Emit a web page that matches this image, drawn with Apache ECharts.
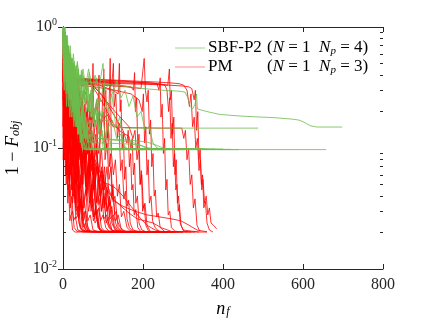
<!DOCTYPE html>
<html><head><meta charset="utf-8">
<script src="https://cdn.jsdelivr.net/npm/echarts@6/dist/echarts.min.js"></script>
<style>html,body{margin:0;padding:0;background:#fff}#c{width:436px;height:323px}</style>
</head><body><div id="c"></div>
<script>
// ---- axis ticks ----
const xTicks = [0, 200, 400, 600, 800];
const yTicks = [0.01, 0.1, 1];
const yMinorTicks = [0.02,0.03,0.04,0.05,0.06,0.07,0.08,0.09,0.2,0.3,0.4,0.5,0.6,0.7,0.8,0.9];
const legendNames = ['SBF-P2', 'PM'];
const legendParams = ['(N = 1  N_p = 4)', '(N = 1  N_p = 3)'];

// ---- SBF-P2 runs (x = n_f, y = 1 - F_obj) ----
const sbf01 = [[0,1.0],[2,0.6],[4,0.9],[6,0.5],[8,0.75],[11,0.45],[14,0.6],[18,0.4],[22,0.5],[27,0.38],[32,0.42],[40,0.36],[55,0.35],[100,0.34],[150,0.325],[200,0.31],[250,0.3],[290,0.295],[305,0.29],[312,0.26],[318,0.22],[324,0.21],[330,0.23],[334,0.28],[336,0.21],[340,0.205],[360,0.2],[390,0.19],[430,0.185],[480,0.181],[530,0.178],[575,0.173],[590,0.17],[600,0.165],[610,0.158],[620,0.152],[635,0.149],[698,0.149]];
const sbf02 = [[0,0.9],[2,0.5],[4,0.8],[6,0.4],[9,0.65],[12,0.35],[16,0.5],[20,0.3],[25,0.42],[30,0.26],[36,0.35],[42,0.22],[50,0.3],[58,0.2],[66,0.25],[75,0.18],[85,0.21],[95,0.165],[110,0.17],[125,0.155],[140,0.148],[160,0.146],[488,0.146]];
const sbf03 = [[0,0.8],[3,0.45],[6,0.7],[10,0.35],[14,0.55],[18,0.25],[23,0.4],[28,0.18],[33,0.28],[38,0.13],[43,0.18],[48,0.105],[53,0.11],[58,0.098],[70,0.097],[658,0.097]];
const sbf04 = [[0,0.95],[3,0.55],[6,0.85],[9,0.4],[12,0.7],[16,0.3],[20,0.5],[24,0.22],[28,0.35],[33,0.15],[38,0.22],[43,0.11],[48,0.13],[53,0.099],[62,0.0975],[420,0.0975]];
const sbf05 = [[0,0.7],[3,0.4],[6,0.65],[10,0.3],[14,0.5],[18,0.25],[23,0.42],[28,0.2],[33,0.33],[38,0.16],[44,0.25],[50,0.13],[56,0.18],[62,0.11],[68,0.13],[74,0.1],[82,0.098],[380,0.098]];
const sbf06 = [[0,1.0],[3,0.6],[5,0.9],[8,0.45],[11,0.7],[14,0.4],[18,0.6],[22,0.35],[27,0.5],[32,0.3],[38,0.45],[44,0.28],[50,0.4],[56,0.25],[62,0.35],[68,0.2],[74,0.28],[80,0.15],[86,0.2],[92,0.12],[98,0.14],[104,0.1],[115,0.098],[340,0.098]];
const sbf07 = [[0,0.85],[2,0.5],[4,0.75],[7,0.38],[10,0.6],[13,0.3],[17,0.45],[21,0.25],[26,0.35],[31,0.2],[37,0.28],[43,0.16],[50,0.22],[58,0.14],[66,0.17],[75,0.125],[90,0.12],[120,0.118],[150,0.117],[180,0.115],[210,0.112],[235,0.105],[250,0.1],[270,0.098],[400,0.098]];
const sbf08 = [[0,0.6],[3,0.35],[5,0.55],[8,0.28],[11,0.45],[14,0.22],[18,0.35],[22,0.18],[27,0.28],[32,0.15],[38,0.22],[44,0.13],[52,0.16],[60,0.115],[75,0.11],[100,0.11],[130,0.109],[160,0.108],[190,0.106],[215,0.1],[230,0.098],[360,0.098]];
const sbf09 = [[0,1.0],[2,0.65],[4,0.95],[7,0.5],[10,0.8],[13,0.4],[16,0.6],[20,0.3],[24,0.42],[28,0.2],[32,0.27],[37,0.13],[42,0.16],[47,0.1],[55,0.097],[300,0.097]];
const sbf10 = [[0,0.9],[3,0.5],[6,0.8],[9,0.4],[12,0.65],[16,0.35],[20,0.55],[25,0.3],[30,0.48],[36,0.28],[42,0.4],[48,0.25],[55,0.36],[62,0.22],[70,0.3],[78,0.2],[86,0.26],[95,0.18],[104,0.22],[114,0.15],[124,0.17],[134,0.12],[144,0.13],[154,0.1],[165,0.098],[320,0.098]];
const sbf11 = [[0,0.75],[3,0.45],[6,0.7],[9,0.32],[12,0.55],[16,0.26],[20,0.4],[24,0.2],[29,0.3],[34,0.15],[39,0.2],[44,0.115],[49,0.13],[55,0.1],[62,0.097],[260,0.097]];
const sbf12 = [[0,0.95],[2,0.7],[4,1.0],[6,0.55],[8,0.85],[10,0.45],[13,0.7],[16,0.38],[19,0.6],[23,0.32],[27,0.5],[31,0.26],[35,0.4],[40,0.2],[45,0.3],[50,0.15],[55,0.2],[60,0.12],[66,0.13],[72,0.1],[80,0.098],[240,0.098]];
const sbf13 = [[0,0.5],[3,0.3],[6,0.45],[9,0.22],[13,0.38],[17,0.18],[22,0.3],[27,0.15],[33,0.24],[40,0.13],[48,0.19],[56,0.12],[65,0.15],[75,0.115],[90,0.12],[110,0.118],[140,0.115],[170,0.112],[195,0.105],[210,0.099],[225,0.097],[280,0.097]];
const sbf14 = [[0,0.8],[3,0.55],[6,0.75],[10,0.45],[14,0.65],[19,0.4],[24,0.55],[30,0.36],[36,0.5],[43,0.33],[50,0.45],[58,0.3],[66,0.42],[75,0.27],[84,0.38],[93,0.24],[102,0.34],[112,0.2],[122,0.28],[132,0.15],[142,0.18],[150,0.11],[158,0.1],[170,0.097],[440,0.097]];
const sbf15 = [[0,0.9],[3,0.55],[6,0.8],[9,0.45],[13,0.65],[17,0.4],[22,0.55],[27,0.35],[33,0.48],[40,0.33],[48,0.42],[56,0.32],[64,0.45],[72,0.3],[80,0.4],[90,0.31],[100,0.5],[104,0.3],[115,0.34],[125,0.28],[135,0.36],[145,0.26],[155,0.3],[165,0.22],[175,0.27],[185,0.18],[195,0.2],[205,0.14],[215,0.15],[225,0.11],[235,0.1],[250,0.098],[330,0.098]];
const sbf16 = [[0,1.0],[2,0.7],[4,0.95],[6,0.6],[8,0.85],[11,0.5],[14,0.7],[17,0.38],[20,0.55],[23,0.28],[26,0.4],[30,0.2],[34,0.28],[38,0.14],[42,0.18],[46,0.105],[51,0.1],[58,0.097],[200,0.097]];
const sbf17 = [[0,0.65],[3,0.9],[6,0.5],[9,0.75],[12,0.38],[15,0.6],[19,0.3],[23,0.48],[27,0.24],[31,0.38],[35,0.18],[40,0.3],[45,0.14],[50,0.22],[55,0.12],[60,0.15],[66,0.1],[74,0.098],[220,0.098]];
const sbf18 = [[0,0.55],[2,0.8],[4,0.45],[6,0.7],[8,0.35],[11,0.55],[14,0.28],[17,0.45],[20,0.22],[24,0.36],[28,0.17],[32,0.28],[37,0.13],[42,0.2],[47,0.11],[53,0.14],[60,0.1],[68,0.098],[290,0.098]];
const sbf19 = [[0,0.85],[2,1.0],[4,0.6],[6,0.9],[8,0.5],[10,0.75],[13,0.42],[16,0.62],[19,0.34],[22,0.5],[26,0.27],[30,0.4],[34,0.2],[38,0.3],[43,0.15],[48,0.22],[53,0.12],[58,0.15],[64,0.1],[72,0.098],[350,0.098]];
const sbf20 = [[0,0.75],[3,0.45],[6,0.65],[9,0.35],[13,0.55],[17,0.3],[22,0.5],[27,0.27],[32,0.45],[38,0.25],[44,0.4],[50,0.22],[57,0.35],[64,0.2],[71,0.3],[78,0.17],[85,0.25],[92,0.14],[99,0.2],[106,0.12],[113,0.15],[120,0.1],[130,0.098],[310,0.098]];
const sbf21 = [[0,0.6],[3,0.85],[6,0.5],[10,0.7],[14,0.42],[18,0.6],[23,0.36],[28,0.52],[33,0.3],[38,0.45],[44,0.26],[50,0.38],[56,0.22],[62,0.32],[68,0.18],[74,0.26],[80,0.15],[86,0.2],[92,0.12],[98,0.13],[105,0.1],[115,0.098],[270,0.098]];
const sbf22 = [[0,0.95],[2,0.75],[5,1.0],[8,0.6],[11,0.85],[14,0.5],[18,0.7],[22,0.42],[26,0.6],[31,0.36],[36,0.52],[41,0.3],[46,0.44],[52,0.25],[58,0.36],[64,0.2],[70,0.28],[76,0.16],[82,0.22],[88,0.13],[94,0.16],[100,0.1],[110,0.098],[230,0.098]];

// ---- PM runs ----
const pm01 = [[0,0.55],[3,0.3],[6,0.45],[10,0.2],[14,0.38],[20,0.3],[28,0.37],[40,0.375],[80,0.37],[120,0.365],[160,0.36],[200,0.355],[240,0.35],[270,0.345],[290,0.34],[302,0.33],[310,0.3],[316,0.22],[320,0.28],[324,0.15],[328,0.18],[332,0.1],[336,0.12],[340,0.065],[343,0.08],[347,0.045],[350,0.055],[354,0.035],[358,0.04],[362,0.028],[366,0.032],[370,0.024],[376,0.023],[384,0.0215]];
const pm02 = [[0,0.4],[4,0.7],[8,0.35],[13,0.5],[18,0.3],[25,0.36],[35,0.35],[80,0.345],[150,0.34],[220,0.335],[270,0.33],[300,0.325],[315,0.32],[322,0.31],[328,0.25],[331,0.3],[334,0.14],[337,0.2],[340,0.08],[343,0.1],[346,0.05],[349,0.06],[352,0.032],[356,0.036],[360,0.024],[366,0.021],[375,0.0202]];
const pm03 = [[0,0.3],[5,0.5],[9,0.25],[14,0.42],[20,0.22],[27,0.35],[34,0.2],[42,0.3],[50,0.18],[60,0.25],[70,0.17],[82,0.22],[95,0.16],[110,0.19],[125,0.15],[140,0.148],[180,0.147],[240,0.146],[297,0.146],[302,0.12],[306,0.14],[310,0.08],[314,0.1],[318,0.05],[322,0.06],[326,0.032],[330,0.038],[335,0.023],[342,0.0205]];
const pm04 = [[0,0.8],[3,0.4],[7,0.6],[11,0.3],[16,0.45],[22,0.33],[30,0.36],[45,0.355],[100,0.35],[160,0.345],[210,0.34],[245,0.335],[255,0.33],[260,0.3],[264,0.2],[267,0.26],[270,0.12],[273,0.16],[276,0.07],[279,0.09],[282,0.045],[285,0.05],[288,0.03],[291,0.034],[295,0.023],[302,0.0205],[320,0.0202]];
const pm05 = [[0,0.35],[4,0.6],[8,0.3],[12,0.5],[17,0.28],[23,0.4],[30,0.32],[40,0.37],[70,0.365],[130,0.36],[190,0.35],[240,0.34],[262,0.33],[266,0.45],[268,0.25],[271,0.3],[274,0.13],[277,0.18],[280,0.06],[283,0.08],[286,0.035],[289,0.04],[293,0.024],[300,0.021],[340,0.0202]];
const pm06 = [[0,0.45],[3,0.25],[7,0.5],[11,0.27],[16,0.4],[22,0.3],[30,0.34],[45,0.335],[100,0.33],[160,0.32],[195,0.31],[203,0.55],[206,0.3],[210,0.24],[213,0.3],[216,0.13],[219,0.17],[222,0.07],[225,0.09],[228,0.04],[231,0.045],[234,0.027],[238,0.029],[243,0.022],[255,0.0203]];
const pm07 = [[0,0.25],[4,0.45],[9,0.22],[14,0.38],[20,0.26],[28,0.34],[40,0.33],[80,0.32],[130,0.3],[170,0.28],[190,0.25],[198,0.2],[201,0.28],[204,0.11],[207,0.15],[210,0.06],[213,0.08],[216,0.035],[220,0.04],[224,0.025],[230,0.022],[240,0.0205]];
const pm08 = [[0,0.6],[3,0.3],[7,0.5],[12,0.28],[17,0.42],[23,0.3],[30,0.37],[45,0.365],[80,0.36],[110,0.35],[122,0.33],[126,0.5],[128,0.22],[132,0.28],[136,0.12],[140,0.16],[144,0.065],[148,0.08],[152,0.038],[156,0.044],[160,0.026],[166,0.022],[175,0.0205]];
const pm09 = [[0,0.3],[5,0.55],[10,0.27],[15,0.4],[21,0.26],[28,0.35],[38,0.3],[55,0.34],[90,0.33],[125,0.3],[138,0.28],[141,0.5],[143,0.2],[145,0.25],[148,0.1],[151,0.13],[154,0.055],[157,0.07],[160,0.033],[164,0.037],[168,0.024],[175,0.021],[190,0.0203]];
const pm10 = [[0,0.5],[4,0.25],[8,0.4],[13,0.2],[19,0.3],[25,0.15],[32,0.22],[40,0.11],[48,0.14],[56,0.08],[64,0.1],[72,0.065],[80,0.075],[90,0.055],[100,0.052],[115,0.05],[130,0.047],[150,0.04],[170,0.033],[190,0.027],[210,0.023],[230,0.021],[250,0.0203]];
const pm11 = [[0,0.35],[4,0.6],[9,0.3],[14,0.45],[20,0.2],[27,0.3],[34,0.15],[42,0.2],[50,0.1],[60,0.12],[70,0.07],[80,0.08],[95,0.06],[110,0.045],[125,0.038],[145,0.033],[165,0.029],[185,0.026],[205,0.025],[225,0.024],[245,0.022],[270,0.0205]];
const pm12 = [[0,0.28],[5,0.5],[10,0.23],[16,0.35],[22,0.18],[30,0.25],[38,0.12],[46,0.16],[55,0.08],[64,0.1],[74,0.06],[84,0.07],[96,0.045],[110,0.05],[125,0.037],[150,0.033],[180,0.03],[210,0.028],[240,0.027],[270,0.026],[295,0.025],[315,0.023],[335,0.021],[360,0.0203]];
const pm13 = [[0,0.2],[2,0.45],[4,0.15],[6,0.3],[8,0.1],[10,0.18],[12,0.06],[14,0.09],[16,0.04],[18,0.05],[21,0.028],[24,0.03],[28,0.022],[35,0.0205],[150,0.0202]];
const pm14 = [[0,0.7],[3,0.3],[5,0.5],[8,0.2],[11,0.35],[14,0.12],[17,0.2],[20,0.07],[23,0.1],[26,0.045],[29,0.055],[32,0.03],[36,0.033],[40,0.024],[46,0.021],[60,0.0203],[200,0.0202]];
const pm15 = [[0,0.4],[3,0.15],[6,0.3],[9,0.12],[12,0.25],[16,0.09],[20,0.18],[24,0.07],[28,0.12],[32,0.05],[36,0.08],[40,0.035],[44,0.05],[48,0.026],[53,0.03],[58,0.022],[66,0.0205],[180,0.0202]];
const pm16 = [[0,0.15],[3,0.35],[6,0.12],[10,0.25],[14,0.1],[18,0.2],[22,0.08],[27,0.15],[32,0.06],[37,0.1],[42,0.045],[47,0.07],[52,0.032],[57,0.045],[62,0.025],[68,0.028],[75,0.021],[90,0.0203],[250,0.0202]];
const pm17 = [[0,0.9],[3,0.4],[6,0.6],[9,0.25],[13,0.4],[17,0.2],[21,0.3],[26,0.14],[31,0.22],[36,0.1],[41,0.16],[46,0.07],[51,0.1],[56,0.05],[61,0.065],[66,0.035],[71,0.045],[76,0.027],[82,0.03],[88,0.022],[96,0.0205],[220,0.0202]];
const pm18 = [[0,0.3],[4,0.12],[8,0.25],[12,0.08],[16,0.15],[20,0.06],[25,0.11],[30,0.05],[35,0.08],[40,0.04],[46,0.065],[52,0.035],[58,0.05],[64,0.03],[70,0.04],[76,0.025],[83,0.03],[90,0.022],[100,0.0205],[300,0.0202]];
const pm19 = [[0,0.5],[4,0.2],[8,0.35],[13,0.15],[18,0.3],[24,0.12],[30,0.22],[36,0.09],[42,0.16],[48,0.08],[55,0.14],[62,0.06],[70,0.12],[78,0.05],[84,0.09],[90,0.4],[93,0.06],[98,0.045],[104,0.07],[110,0.03],[116,0.04],[122,0.024],[130,0.021],[150,0.0203],[270,0.0202]];
const pm20 = [[0,0.25],[3,0.5],[6,0.2],[10,0.4],[14,0.18],[19,0.32],[24,0.15],[30,0.27],[36,0.13],[42,0.22],[48,0.11],[55,0.18],[62,0.09],[69,0.14],[76,0.07],[83,0.11],[90,0.05],[97,0.07],[104,0.035],[111,0.045],[118,0.026],[126,0.028],[135,0.022],[145,0.0205],[330,0.0202]];
const pm21 = [[0,0.35],[4,0.7],[8,0.3],[13,0.5],[18,0.25],[24,0.4],[30,0.22],[37,0.35],[44,0.2],[52,0.3],[60,0.18],[68,0.28],[76,0.15],[84,0.25],[92,0.13],[100,0.2],[108,0.1],[114,0.15],[118,0.55],[121,0.09],[126,0.06],[131,0.08],[136,0.04],[141,0.05],[146,0.027],[152,0.03],[160,0.022],[170,0.0205],[280,0.0202]];
const pm22 = [[0,0.12],[2,0.3],[5,0.1],[8,0.2],[11,0.07],[14,0.12],[17,0.05],[20,0.08],[24,0.035],[28,0.045],[32,0.026],[37,0.028],[43,0.022],[50,0.0205],[130,0.0202]];
const pm23 = [[0,0.18],[3,0.4],[6,0.15],[10,0.3],[14,0.12],[19,0.22],[24,0.1],[30,0.16],[36,0.08],[42,0.13],[48,0.07],[55,0.11],[62,0.06],[70,0.09],[78,0.05],[86,0.075],[94,0.04],[102,0.06],[110,0.03],[118,0.036],[126,0.023],[134,0.0205],[210,0.0202]];
const pm24 = [[0,0.6],[3,0.28],[7,0.45],[11,0.22],[16,0.35],[21,0.2],[27,0.3],[33,0.17],[40,0.26],[47,0.15],[54,0.23],[61,0.13],[68,0.2],[75,0.11],[82,0.17],[89,0.09],[96,0.14],[102,0.45],[105,0.08],[110,0.11],[115,0.055],[120,0.07],[125,0.036],[130,0.04],[136,0.025],[143,0.022],[155,0.0205],[360,0.0202]];
const pm25 = [[0,0.45],[3,0.2],[6,0.38],[9,0.16],[13,0.3],[17,0.12],[21,0.22],[25,0.08],[29,0.13],[33,0.05],[37,0.07],[41,0.032],[45,0.038],[50,0.024],[56,0.021],[70,0.0203],[160,0.0202]];
const pm26 = [[0,0.08],[3,0.2],[6,0.06],[9,0.12],[12,0.045],[15,0.07],[18,0.032],[22,0.04],[26,0.025],[31,0.027],[37,0.021],[50,0.0202],[110,0.0202]];
const pm27 = [[0,0.3],[4,0.55],[8,0.26],[13,0.42],[18,0.22],[24,0.36],[30,0.19],[36,0.3],[42,0.16],[48,0.25],[54,0.13],[60,0.2],[66,0.1],[72,0.15],[75,0.5],[78,0.08],[84,0.1],[90,0.05],[96,0.065],[102,0.032],[108,0.036],[114,0.024],[122,0.021],[135,0.0203],[240,0.0202]];
const pm28 = [[0,0.4],[3,0.7],[6,0.35],[10,0.55],[14,0.3],[19,0.45],[25,0.33],[32,0.38],[45,0.375],[70,0.37],[90,0.36],[100,0.34],[104,0.22],[107,0.3],[110,0.12],[113,0.16],[116,0.07],[119,0.09],[122,0.04],[125,0.05],[129,0.028],[133,0.03],[138,0.022],[146,0.0205],[290,0.0202]];
const pm29 = [[0,0.3],[4,0.5],[8,0.25],[13,0.42],[18,0.28],[25,0.35],[40,0.345],[90,0.34],[140,0.33],[170,0.32],[176,0.3],[179,0.42],[181,0.2],[184,0.26],[187,0.1],[190,0.13],[193,0.05],[196,0.065],[199,0.03],[203,0.034],[207,0.023],[214,0.0205],[230,0.0202]];
const pm30 = [[0,0.5],[3,0.25],[7,0.42],[11,0.2],[16,0.35],[22,0.27],[30,0.36],[50,0.36],[110,0.355],[170,0.35],[220,0.345],[235,0.34],[240,0.3],[243,0.38],[245,0.18],[248,0.23],[251,0.09],[254,0.12],[257,0.045],[260,0.055],[263,0.028],[267,0.03],[271,0.022],[280,0.0205],[310,0.0202]];
const pm31 = [[0,0.22],[4,0.45],[8,0.2],[13,0.35],[18,0.18],[24,0.3],[30,0.2],[38,0.3],[46,0.25],[54,0.3],[60,0.26],[64,0.15],[67,0.2],[70,0.08],[73,0.1],[76,0.045],[79,0.055],[82,0.028],[86,0.031],[91,0.022],[98,0.0205],[190,0.0202]];
const pm32 = [[0,0.1],[2,0.25],[4,0.08],[6,0.15],[8,0.05],[10,0.09],[12,0.035],[14,0.05],[17,0.025],[20,0.028],[24,0.021],[30,0.0202],[90,0.0202]];
const pm33 = [[0,0.6],[2,0.25],[5,0.4],[8,0.15],[11,0.28],[14,0.09],[17,0.16],[20,0.06],[23,0.1],[27,0.04],[31,0.06],[35,0.028],[39,0.034],[44,0.022],[52,0.0205],[120,0.0202]];
const pm34 = [[0,0.2],[3,0.1],[6,0.18],[9,0.07],[12,0.13],[15,0.055],[19,0.1],[23,0.045],[27,0.08],[31,0.038],[36,0.06],[41,0.03],[46,0.045],[51,0.025],[57,0.03],[63,0.021],[72,0.0203],[140,0.0202]];
const pm35 = [[0,0.35],[3,0.15],[6,0.3],[10,0.11],[14,0.22],[18,0.09],[22,0.17],[27,0.07],[32,0.13],[37,0.06],[42,0.11],[47,0.05],[53,0.09],[59,0.04],[65,0.07],[71,0.032],[77,0.05],[83,0.026],[89,0.032],[96,0.022],[104,0.0205],[170,0.0202]];
const pm36 = [[0,0.9],[2,0.5],[4,0.7],[7,0.3],[10,0.45],[13,0.2],[16,0.3],[19,0.13],[22,0.2],[26,0.08],[30,0.12],[34,0.05],[38,0.07],[42,0.032],[46,0.04],[51,0.024],[57,0.021],[66,0.0203],[100,0.0202]];
const pm37 = [[0,0.15],[4,0.3],[8,0.13],[12,0.24],[16,0.1],[21,0.2],[26,0.09],[31,0.16],[36,0.075],[42,0.14],[48,0.065],[54,0.12],[60,0.055],[66,0.1],[72,0.045],[78,0.08],[84,0.036],[90,0.06],[96,0.03],[102,0.042],[108,0.024],[115,0.027],[122,0.021],[132,0.0203],[190,0.0202]];
const pm38 = [[0,0.45],[3,0.2],[7,0.35],[11,0.15],[15,0.3],[20,0.12],[25,0.25],[30,0.1],[36,0.2],[42,0.085],[48,0.16],[54,0.07],[60,0.13],[66,0.06],[72,0.1],[78,0.045],[84,0.07],[90,0.034],[96,0.045],[102,0.026],[109,0.028],[116,0.022],[125,0.0205],[260,0.0202]];
const pm39 = [[0,0.28],[2,0.12],[5,0.22],[8,0.08],[11,0.15],[14,0.06],[18,0.11],[22,0.045],[26,0.08],[30,0.035],[34,0.055],[38,0.027],[43,0.035],[48,0.022],[55,0.0205],[150,0.0202]];
const pm40 = [[0,0.5],[4,0.22],[8,0.4],[12,0.18],[17,0.33],[22,0.15],[28,0.28],[34,0.13],[40,0.24],[47,0.11],[54,0.2],[61,0.09],[68,0.16],[75,0.075],[82,0.13],[89,0.06],[96,0.1],[103,0.045],[110,0.07],[117,0.033],[124,0.045],[131,0.025],[138,0.028],[146,0.021],[158,0.0203],[230,0.0202]];
const pm41 = [[0,0.7],[3,0.35],[6,0.55],[9,0.25],[13,0.4],[17,0.17],[21,0.28],[25,0.11],[29,0.18],[33,0.07],[37,0.11],[41,0.045],[45,0.06],[49,0.03],[54,0.035],[60,0.023],[68,0.0205],[210,0.0202]];
const pm42 = [[0,0.5],[4,0.25],[8,0.4],[13,0.28],[20,0.38],[30,0.37],[50,0.36],[70,0.34],[90,0.29],[110,0.24],[130,0.2],[150,0.17],[165,0.15],[175,0.12],[180,0.14],[185,0.08],[189,0.1],[193,0.05],[197,0.06],[201,0.032],[205,0.035],[210,0.023],[218,0.0205],[250,0.0202]];
const pm43 = [[0,0.35],[4,0.6],[8,0.3],[13,0.45],[19,0.33],[28,0.37],[45,0.365],[65,0.35],[80,0.3],[95,0.25],[110,0.2],[125,0.16],[140,0.14],[155,0.13],[165,0.125],[170,0.1],[173,0.12],[176,0.06],[179,0.075],[182,0.035],[186,0.04],[190,0.024],[197,0.021],[210,0.0202]];
const pm44 = [[0,0.4],[3,0.2],[7,0.35],[12,0.3],[20,0.37],[35,0.37],[55,0.36],[75,0.33],[95,0.28],[115,0.22],[135,0.17],[150,0.14],[160,0.11],[163,0.14],[166,0.07],[169,0.09],[172,0.045],[175,0.05],[178,0.028],[182,0.031],[187,0.022],[195,0.0203],[280,0.0202]];
const pm45 = [[0,0.25],[4,0.1],[8,0.2],[12,0.08],[16,0.16],[20,0.07],[25,0.14],[30,0.06],[35,0.12],[40,0.055],[45,0.1],[50,0.05],[55,0.09],[60,0.045],[66,0.08],[72,0.04],[78,0.07],[84,0.035],[90,0.055],[96,0.03],[102,0.04],[108,0.025],[115,0.022],[125,0.0205],[200,0.0202]];
const pm46 = [[0,0.3],[4,0.14],[8,0.25],[12,0.11],[17,0.2],[22,0.09],[28,0.16],[34,0.075],[40,0.13],[46,0.06],[52,0.1],[58,0.048],[64,0.075],[70,0.038],[76,0.055],[82,0.03],[88,0.04],[94,0.025],[100,0.028],[107,0.022],[115,0.0205],[240,0.0202]];
const pm47 = [[0,0.55],[3,0.25],[7,0.45],[11,0.2],[15,0.35],[20,0.15],[25,0.26],[30,0.11],[35,0.19],[40,0.08],[45,0.13],[50,0.06],[55,0.09],[60,0.042],[65,0.06],[70,0.03],[75,0.038],[80,0.024],[86,0.026],[92,0.021],[100,0.0203],[175,0.0202]];
const pm48 = [[0,0.18],[3,0.08],[6,0.15],[9,0.06],[12,0.11],[16,0.05],[20,0.09],[24,0.04],[28,0.07],[32,0.032],[36,0.05],[40,0.026],[45,0.035],[50,0.022],[56,0.024],[62,0.0205],[120,0.0202]];
const pm49 = [[0,0.4],[4,0.18],[8,0.32],[12,0.14],[17,0.26],[22,0.12],[27,0.22],[32,0.1],[38,0.18],[44,0.085],[50,0.15],[56,0.07],[62,0.12],[68,0.058],[74,0.1],[80,0.048],[86,0.08],[92,0.04],[98,0.065],[104,0.033],[110,0.048],[116,0.027],[122,0.033],[128,0.023],[136,0.021],[146,0.0203],[300,0.0202]];
const pm50 = [[0,0.65],[3,0.3],[6,0.5],[10,0.22],[14,0.38],[18,0.16],[22,0.28],[27,0.12],[32,0.2],[37,0.09],[42,0.15],[47,0.065],[52,0.1],[57,0.048],[62,0.07],[67,0.035],[72,0.05],[77,0.027],[82,0.033],[88,0.022],[95,0.0205],[260,0.0202]];

const sbfRuns = [sbf01,sbf02,sbf03,sbf04,sbf05,sbf06,sbf07,sbf08,sbf09,sbf10,sbf11,sbf12,sbf13,sbf14,sbf15,sbf16,sbf17,sbf18,sbf19,sbf20,sbf21,sbf22];
const pmRuns = [pm01,pm02,pm03,pm04,pm05,pm06,pm07,pm08,pm09,pm10,pm11,pm12,pm13,pm14,pm15,pm16,pm17,pm18,pm19,pm20,pm21,pm22,pm23,pm24,pm25,pm26,pm27,pm28,pm29,pm30,pm31,pm32,pm33,pm34,pm35,pm36,pm37,pm38,pm39,pm40,pm41,pm42,pm43,pm44,pm45,pm46,pm47,pm48,pm49,pm50];

const GREEN = '#6cbd4c', RED = '#ff0000';
const FONT = 'Liberation Serif';

const series = [];
pmRuns.forEach(d => series.push({type:'line', name:'PM', data:d, symbol:'none', showSymbol:false, silent:true, z:2,
  lineStyle:{color:RED, width:0.8}, itemStyle:{color:RED}}));
sbfRuns.forEach(d => series.push({type:'line', name:'SBF-P2', data:d, symbol:'none', showSymbol:false, silent:true, z:3,
  lineStyle:{color:GREEN, width:0.8}, itemStyle:{color:GREEN}}));

const legendRich = {
  a:{fontFamily:FONT, fontSize:17, color:'#000', width:59},
  t:{fontFamily:FONT, fontSize:17, color:'#000'},
  i:{fontFamily:FONT, fontSize:17, fontStyle:'italic', color:'#000'},
  s:{fontFamily:FONT, fontSize:11, fontStyle:'italic', color:'#000', verticalAlign:'bottom', lineHeight:12, padding:[6,0,0,0]}
};
function legendText(name, param) {
  // param like "(N = 1  N_p = 4)"
  const m = param.match(/\((\w) = (\d)\s+(\w)_(\w) = (\d)\)/);
  return '{a|' + name + '}{t|(}{i|' + m[1] + '}{t| = ' + m[2] + '  }{i|' + m[3] + '}{s|' + m[4] + '}{t| = ' + m[5] + ')}';
}
const legendColors = ['#9ed68a', '#ff8a8a'];
const legendRows = [48, 67];
const graphics = [];
legendNames.forEach((n, k) => {
  graphics.push({type:'line', silent:true, shape:{x1:175, y1:legendRows[k], x2:205, y2:legendRows[k]},
    style:{stroke:legendColors[k], lineWidth:1}, z:100});
  graphics.push({type:'text', silent:true, x:208, y:legendRows[k], z:100,
    style:{text:legendText(n, legendParams[k]), rich:legendRich, verticalAlign:'middle', align:'left',
      font:'17px ' + FONT, fill:'#000'}});
});

const chart = echarts.init(document.getElementById('c'), null, {renderer:'canvas'});
chart.setOption({
  animation:false,
  backgroundColor:'#fff',
  grid:{left:63, right:53, top:27, bottom:54, containLabel:false, outerBoundsMode:'none'},
  graphic: graphics,
  xAxis:[
    {type:'value', min:xTicks[0], max:xTicks[xTicks.length-1], interval:200, position:'bottom',
     name:'{i|n}{s|f}', nameLocation:'middle', nameGap:30,
     nameTextStyle:{rich:{i:{fontFamily:FONT, fontSize:18, fontStyle:'italic', color:'#000'},
       s:{fontFamily:FONT, fontSize:12, fontStyle:'italic', color:'#000', verticalAlign:'bottom', lineHeight:12, padding:[8,0,0,1]}}},
     axisLine:{lineStyle:{color:'#262626', width:1}},
     axisTick:{inside:true, length:5, lineStyle:{color:'#262626'}},
     axisLabel:{fontFamily:FONT, fontSize:16, color:'#262626', margin:8},
     splitLine:{show:false}},
    {type:'value', min:xTicks[0], max:xTicks[xTicks.length-1], interval:200, position:'top',
     axisLine:{lineStyle:{color:'#262626', width:1}},
     axisTick:{inside:true, length:5, lineStyle:{color:'#262626'}},
     axisLabel:{show:false}, splitLine:{show:false}}
  ],
  yAxis:[
    {type:'log', logBase:10, min:yTicks[0], max:yTicks[yTicks.length-1], position:'left',
     name:'{t|1 − }{i|F}{s|obj}', nameLocation:'middle', nameGap:37,
     nameTextStyle:{rich:{t:{fontFamily:FONT, fontSize:18, color:'#000'},
       i:{fontFamily:FONT, fontSize:18, fontStyle:'italic', color:'#000'},
       s:{fontFamily:FONT, fontSize:12, fontStyle:'italic', color:'#000', verticalAlign:'bottom', lineHeight:12, padding:[8,0,0,0]}}},
     axisLine:{show:true, lineStyle:{color:'#262626', width:1}},
     axisTick:{show:true, inside:true, length:5, lineStyle:{color:'#262626'}},
     axisLabel:{margin:6, formatter: v => '{b|10}{e|' + Math.round(Math.log10(v)) + '}',
       rich:{b:{fontFamily:FONT, fontSize:16, color:'#262626', lineHeight:20},
             e:{fontFamily:FONT, fontSize:10, color:'#262626', verticalAlign:'top', lineHeight:12}}},
     splitLine:{show:false}},
    {type:'log', logBase:10, min:yTicks[0], max:yTicks[yTicks.length-1], position:'right',
     axisLine:{show:true, lineStyle:{color:'#262626', width:1}},
     axisTick:{show:true, inside:true, length:5, lineStyle:{color:'#262626'}},
     axisLabel:{show:false}, splitLine:{show:false}},
    {type:'log', logBase:10, min:yTicks[0], max:yTicks[yTicks.length-1], position:'left', offset:0,
     axisLine:{show:false}, axisLabel:{show:false}, splitLine:{show:false},
     axisTick:{show:true, inside:true, length:3, customValues:yMinorTicks, lineStyle:{color:'#262626'}}},
    {type:'log', logBase:10, min:yTicks[0], max:yTicks[yTicks.length-1], position:'right', offset:0,
     axisLine:{show:false}, axisLabel:{show:false}, splitLine:{show:false},
     axisTick:{show:true, inside:true, length:3, customValues:yMinorTicks, lineStyle:{color:'#262626'}}}
  ],
  series: series
});
</script></body></html>
